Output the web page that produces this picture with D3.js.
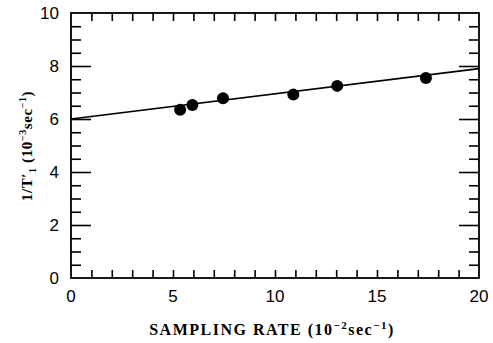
<!DOCTYPE html>
<html lang="en">
<head>
<meta charset="utf-8">
<title>Sampling rate</title>
<script src="https://cdn.jsdelivr.net/npm/d3@7"></script>
<style>
  body { margin: 0; background: #fff; }
</style>
</head>
<body>
<script>
var rate = [5.35, 5.95, 7.45, 10.9, 13.05, 17.4];
var invT1 = [6.35, 6.53, 6.78, 6.92, 7.25, 7.55];
var fitX = [0, 20];
var fitY = [6.0, 7.9];
var xTicks = [0, 5, 10, 15, 20];
var yTicks = [0, 2, 4, 6, 8, 10];

var w = 493, h = 343;
var pLeft = 71, pRight = 479, pTop = 13, pBottom = 278;

var x = d3.scaleLinear().domain([0, 20]).range([pLeft, pRight]);
var y = d3.scaleLinear().domain([0, 10]).range([pBottom, pTop]);

var svg = d3.select("body").append("svg")
    .attr("width", w).attr("height", h);

// x ticks every 1 unit, bottom and top
var xMinor = d3.range(1, 20);
svg.append("g").attr("transform", "translate(0," + pBottom + ")")
    .call(d3.axisTop(x).tickValues(xMinor).tickSize(8).tickFormat(""))
    .call(function(g) { g.select(".domain").remove(); });
svg.append("g").attr("transform", "translate(0," + pTop + ")")
    .call(d3.axisBottom(x).tickValues(xMinor).tickSize(8).tickFormat(""))
    .call(function(g) { g.select(".domain").remove(); });

// y ticks: minor every 0.5, major every 2
var yMinor = d3.range(0.5, 10, 0.5).filter(function(v) { return v % 2 !== 0; });
var yMajor = [2, 4, 6, 8];
[[d3.axisRight, pLeft], [d3.axisLeft, pRight]].forEach(function(s) {
    svg.append("g").attr("transform", "translate(" + s[1] + ",0)")
        .call(s[0](y).tickValues(yMinor).tickSize(10).tickFormat(""))
        .call(function(g) { g.select(".domain").remove(); });
    svg.append("g").attr("transform", "translate(" + s[1] + ",0)")
        .call(s[0](y).tickValues(yMajor).tickSize(20).tickFormat(""))
        .call(function(g) { g.select(".domain").remove(); });
});
svg.selectAll(".tick line").attr("stroke", "#000").attr("stroke-width", 1.6);

// frame
svg.append("rect")
    .attr("x", pLeft).attr("y", pTop)
    .attr("width", pRight - pLeft).attr("height", pBottom - pTop)
    .attr("fill", "none").attr("stroke", "#000").attr("stroke-width", 1.8);

// tick labels
svg.append("g").selectAll("text").data(xTicks).enter().append("text")
    .attr("x", function(d) { return x(d); })
    .attr("y", 302)
    .attr("text-anchor", "middle")
    .attr("font-family", "Liberation Sans, Arial, sans-serif")
    .attr("font-size", "17px")
    .text(function(d) { return d; });

svg.append("g").selectAll("text").data(yTicks).enter().append("text")
    .attr("x", 59)
    .attr("y", function(d) { return y(d) + 6; })
    .attr("text-anchor", "end")
    .attr("font-family", "Liberation Sans, Arial, sans-serif")
    .attr("font-size", "17px")
    .text(function(d) { return d; });

// fit line
svg.append("line")
    .attr("x1", x(fitX[0])).attr("y1", y(fitY[0]))
    .attr("x2", x(fitX[1])).attr("y2", y(fitY[1]))
    .attr("stroke", "#000").attr("stroke-width", 1.6);

// points
svg.append("g").selectAll("circle").data(rate).enter().append("circle")
    .attr("cx", function(d) { return x(d); })
    .attr("cy", function(d, i) { return y(invT1[i]); })
    .attr("r", 6)
    .attr("fill", "#000");

// axis titles
var xt = svg.append("text")
    .attr("x", 272).attr("y", 335)
    .attr("text-anchor", "middle")
    .attr("font-family", "Liberation Serif, Times New Roman, serif")
    .attr("font-weight", "bold")
    .attr("font-size", "16px")
    .attr("letter-spacing", "1.5px");
xt.append("tspan").text("SAMPLING RATE (10");
xt.append("tspan").attr("dy", -6).attr("font-size", "11px").text("\u22122");
xt.append("tspan").attr("dy", 6).text("sec");
xt.append("tspan").attr("dy", -6).attr("font-size", "11px").text("\u22121");
xt.append("tspan").attr("dy", 6).text(")");

var yt = svg.append("text")
    .attr("transform", "translate(32,146) rotate(-90)")
    .attr("text-anchor", "middle")
    .attr("font-family", "Liberation Serif, Times New Roman, serif")
    .attr("font-weight", "bold")
    .attr("font-size", "15px")
    .attr("letter-spacing", "0.6px");
yt.append("tspan").text("1/T\u2032");
yt.append("tspan").attr("dy", 4).attr("font-size", "10px").text("1");
yt.append("tspan").attr("dy", -4).text(" (10");
yt.append("tspan").attr("dy", -6).attr("font-size", "10px").text("\u22123");
yt.append("tspan").attr("dy", 6).text("sec");
yt.append("tspan").attr("dy", -6).attr("font-size", "10px").text("\u22121");
yt.append("tspan").attr("dy", 6).text(")");
</script>
</body>
</html>
